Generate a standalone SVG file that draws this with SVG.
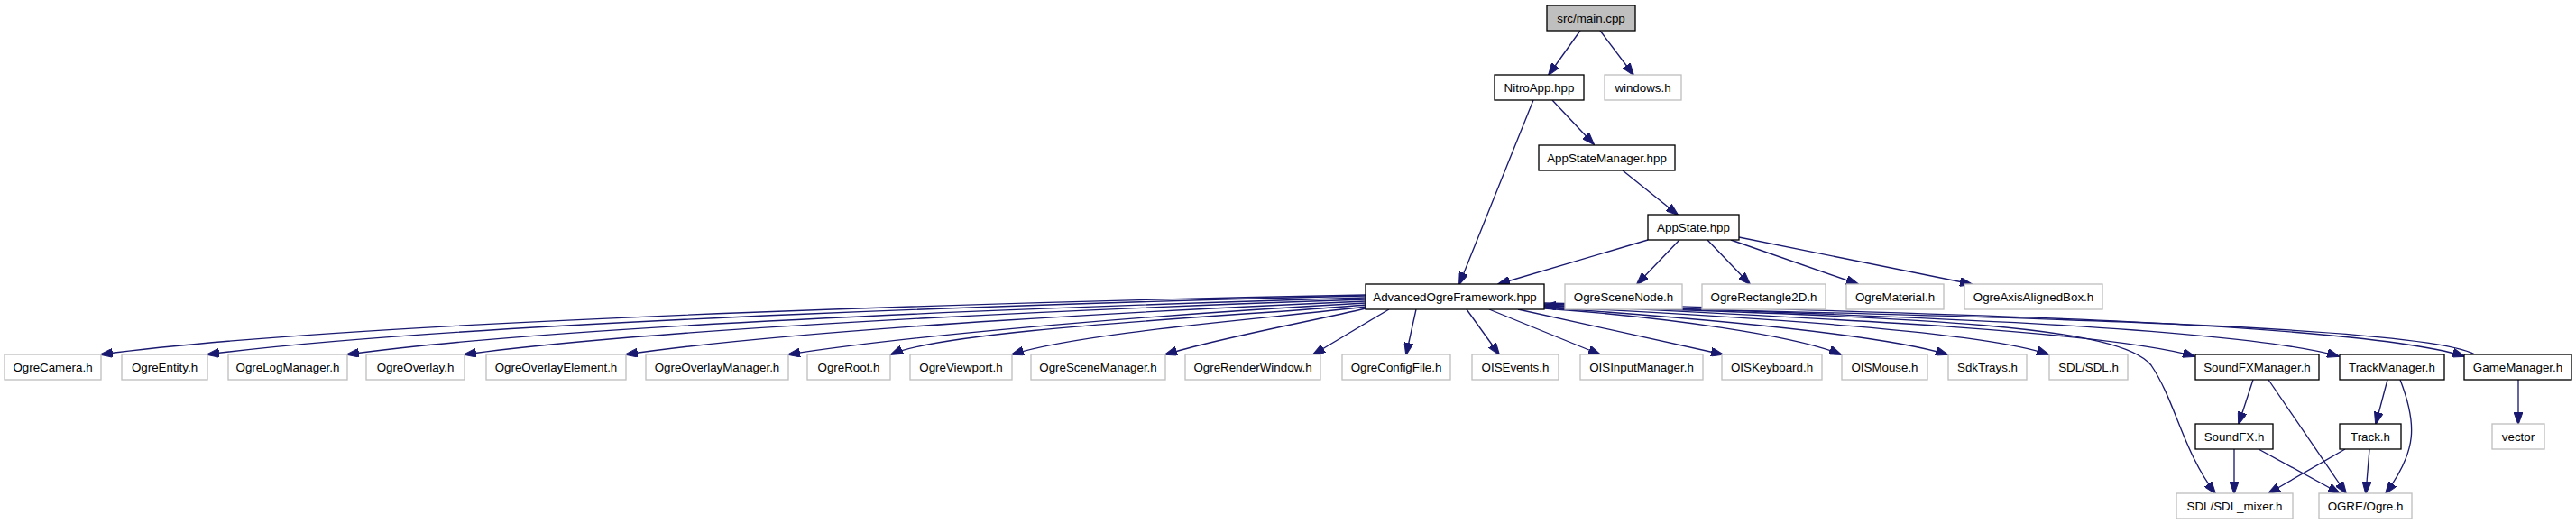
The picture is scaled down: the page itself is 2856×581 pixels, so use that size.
<svg xmlns="http://www.w3.org/2000/svg" width="2856" height="581" viewBox="0 0 2856 581">
<defs>
<marker id="ah" markerUnits="userSpaceOnUse" markerWidth="14" markerHeight="10" viewBox="0 0 14 10" refX="13" refY="5" orient="auto">
<path d="M0,0 L14,5 L0,10 z" fill="#191970" stroke="#191970" stroke-width="1"/>
</marker>
</defs>
<style>
.n rect{fill:#fff;stroke:#000;stroke-width:1.33}
.g rect{fill:#fff;stroke:#bfbfbf;stroke-width:1.33}
.r rect{fill:#bfbfbf;stroke:#000;stroke-width:1.33}
text{font-family:"Liberation Sans",Arial,Helvetica,sans-serif;font-size:13.33px;fill:#000;text-anchor:middle}
.e path{fill:none;stroke:#191970;stroke-width:1.33;marker-end:url(#ah)}
</style>
<rect width="2856" height="581" fill="#fff"/>
<g class="e" id="edges">
<path d="M1752,34 L1717,83"/>
<path d="M1774,34 L1811,83"/>
<path d="M1721,111 L1767,160"/>
<path d="M1700,111 L1618,315"/>
<path d="M1799,189 L1860,238"/>
<path d="M1827,266 L1661,315"/>
<path d="M1862,266 L1815,315"/>
<path d="M1893,266 L1940,315"/>
<path d="M1919,266 L2060,315"/>
<path d="M1928,263 L2186,315"/>
<path d="M1514,327 C1250,332 420,352 112,393"/>
<path d="M1514,328 C1260,334 520,355 230,393"/>
<path d="M1514,330 C1280,337 650,357 385,393"/>
<path d="M1514,332 C1300,339 760,360 515,393"/>
<path d="M1514,334 C1330,342 900,363 694,393"/>
<path d="M1514,336 C1350,345 1040,367 874,393"/>
<path d="M1514,338 C1380,350 1050,365 988,393"/>
<path d="M1514,340 C1420,352 1200,368 1122,393"/>
<path d="M1514,342 C1460,355 1350,375 1292,393"/>
<path d="M1540,343 L1456,393"/>
<path d="M1570,343 L1559,393"/>
<path d="M1626,343 L1662,393"/>
<path d="M1651,343 L1774,393"/>
<path d="M1683,343 L1910,393"/>
<path d="M1712,342 C1850,352 1990,372 2041,393"/>
<path d="M1712,341 C1900,354 2090,372 2159,393"/>
<path d="M1712,340 C1950,352 2200,368 2271,393"/>
<path d="M1712,338 C2000,352 2330,366 2433,395"/>
<path d="M1712,337 C2100,350 2480,363 2593,395"/>
<path d="M1712,336 C2200,348 2620,360 2732,395"/>
<path d="M1712,339 C2150,352 2350,362 2385,405 C2412,445 2420,500 2456,547"/>
<path d="M2744,393 C2690,362 2250,352 1712,339"/>
<path d="M2498,421 L2482,470"/>
<path d="M2515,421 L2601,547"/>
<path d="M2647,421 L2634,470"/>
<path d="M2661,421 C2680,470 2680,500 2645,547"/>
<path d="M2792,421 L2792,470"/>
<path d="M2477,498 L2477,547"/>
<path d="M2504,498 L2594,547"/>
<path d="M2600,498 L2515,547"/>
<path d="M2627,498 L2623,547"/>
</g>
<g id="main" class="r"><rect x="1715" y="6" width="98" height="28"/><text x="1764" y="25">src/main.cpp</text></g>
<g id="nitroapp" class="n"><rect x="1657" y="83" width="99" height="28"/><text x="1706.5" y="102">NitroApp.hpp</text></g>
<g id="windows" class="g"><rect x="1779" y="83" width="85" height="28"/><text x="1821.5" y="102">windows.h</text></g>
<g id="appstatemanager" class="n"><rect x="1706" y="161" width="151" height="28"/><text x="1781.5" y="180">AppStateManager.hpp</text></g>
<g id="appstate" class="n"><rect x="1827" y="238" width="101" height="28"/><text x="1877.5" y="257">AppState.hpp</text></g>
<g id="aof" class="n"><rect x="1514" y="315" width="198" height="28"/><text x="1613" y="334">AdvancedOgreFramework.hpp</text></g>
<g id="scenenode" class="g"><rect x="1735" y="315" width="130" height="28"/><text x="1800" y="334">OgreSceneNode.h</text></g>
<g id="rect2d" class="g"><rect x="1887" y="315" width="137" height="28"/><text x="1955.5" y="334">OgreRectangle2D.h</text></g>
<g id="material" class="g"><rect x="2047" y="315" width="108" height="28"/><text x="2101" y="334">OgreMaterial.h</text></g>
<g id="aabox" class="g"><rect x="2178" y="315" width="153" height="28"/><text x="2254.5" y="334">OgreAxisAlignedBox.h</text></g>
<g id="camera" class="g"><rect x="5" y="393" width="107" height="28"/><text x="58.5" y="412">OgreCamera.h</text></g>
<g id="entity" class="g"><rect x="135" y="393" width="95" height="28"/><text x="182.5" y="412">OgreEntity.h</text></g>
<g id="logmanager" class="g"><rect x="253" y="393" width="132" height="28"/><text x="319" y="412">OgreLogManager.h</text></g>
<g id="overlay" class="g"><rect x="406" y="393" width="109" height="28"/><text x="460.5" y="412">OgreOverlay.h</text></g>
<g id="overlayelement" class="g"><rect x="539" y="393" width="155" height="28"/><text x="616.5" y="412">OgreOverlayElement.h</text></g>
<g id="overlaymanager" class="g"><rect x="716" y="393" width="158" height="28"/><text x="795" y="412">OgreOverlayManager.h</text></g>
<g id="root" class="g"><rect x="895" y="393" width="92" height="28"/><text x="941" y="412">OgreRoot.h</text></g>
<g id="viewport" class="g"><rect x="1009" y="393" width="113" height="28"/><text x="1065.5" y="412">OgreViewport.h</text></g>
<g id="scenemanager" class="g"><rect x="1143" y="393" width="149" height="28"/><text x="1217.5" y="412">OgreSceneManager.h</text></g>
<g id="renderwindow" class="g"><rect x="1314" y="393" width="150" height="28"/><text x="1389" y="412">OgreRenderWindow.h</text></g>
<g id="configfile" class="g"><rect x="1488" y="393" width="120" height="28"/><text x="1548" y="412">OgreConfigFile.h</text></g>
<g id="oisevents" class="g"><rect x="1632" y="393" width="96" height="28"/><text x="1680" y="412">OISEvents.h</text></g>
<g id="oisinputmanager" class="g"><rect x="1752" y="393" width="136" height="28"/><text x="1820" y="412">OISInputManager.h</text></g>
<g id="oiskeyboard" class="g"><rect x="1909" y="393" width="111" height="28"/><text x="1964.5" y="412">OISKeyboard.h</text></g>
<g id="oismouse" class="g"><rect x="2042" y="393" width="95" height="28"/><text x="2089.5" y="412">OISMouse.h</text></g>
<g id="sdktrays" class="g"><rect x="2160" y="393" width="87" height="28"/><text x="2203.5" y="412">SdkTrays.h</text></g>
<g id="sdl" class="g"><rect x="2272" y="393" width="87" height="28"/><text x="2315.5" y="412">SDL/SDL.h</text></g>
<g id="soundfxmanager" class="n"><rect x="2434" y="393" width="137" height="28"/><text x="2502.5" y="412">SoundFXManager.h</text></g>
<g id="trackmanager" class="n"><rect x="2594" y="393" width="116" height="28"/><text x="2652" y="412">TrackManager.h</text></g>
<g id="gamemanager" class="n"><rect x="2732" y="393" width="119" height="28"/><text x="2791.5" y="412">GameManager.h</text></g>
<g id="soundfx" class="n"><rect x="2434" y="470" width="86" height="28"/><text x="2477" y="489">SoundFX.h</text></g>
<g id="track" class="n"><rect x="2594" y="470" width="68" height="28"/><text x="2628" y="489">Track.h</text></g>
<g id="vector" class="g"><rect x="2763" y="470" width="58" height="28"/><text x="2792" y="489">vector</text></g>
<g id="sdlmixer" class="g"><rect x="2413" y="547" width="129" height="28"/><text x="2477.5" y="566">SDL/SDL_mixer.h</text></g>
<g id="ogre" class="g"><rect x="2571" y="547" width="103" height="28"/><text x="2622.5" y="566">OGRE/Ogre.h</text></g>
</svg>
